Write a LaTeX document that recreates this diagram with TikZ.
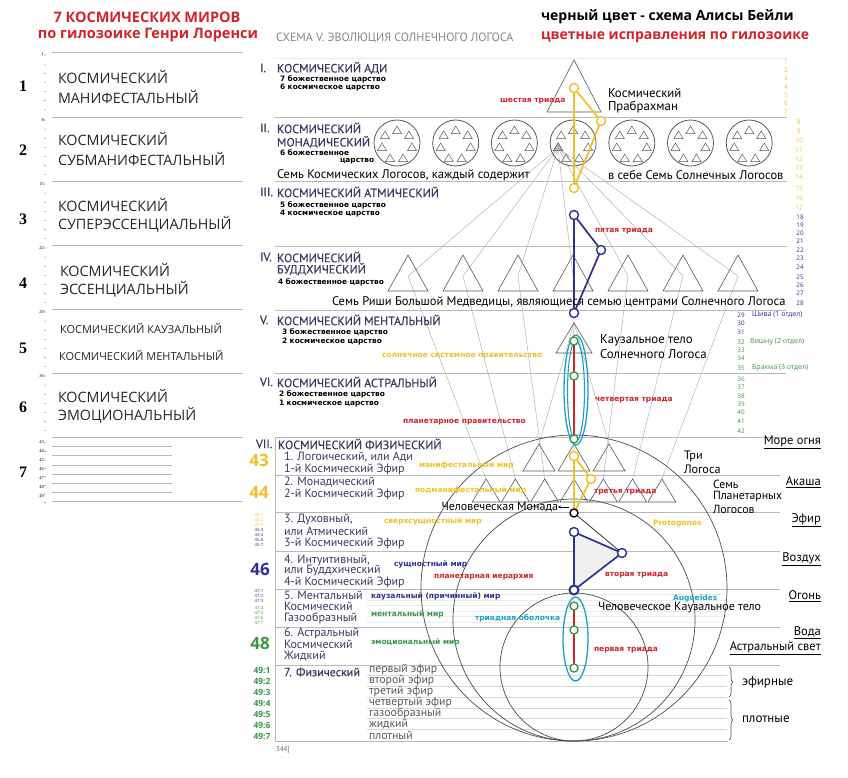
\documentclass[tikz,border=0pt]{standalone}
\usepackage{fontspec}
\setmainfont{Open Sans}
\newfontfamily\dvb{DejaVu Sans}
\newfontfamily\lserif{Liberation Serif}
\newfontfamily\pts{PT Sans}
\newfontfamily\ptsb[FakeBold=0.4]{PT Sans}
\usetikzlibrary{decorations.pathreplacing,arrows.meta}
\newcommand\fs[1]{\fontsize{#1}{#1}\selectfont}
\definecolor{cred}{RGB}{210,35,42}
\definecolor{cgold}{RGB}{240,192,40}
\definecolor{cnavy}{RGB}{46,49,146}
\definecolor{cgreen}{RGB}{60,150,72}
\definecolor{ccyan}{RGB}{25,160,200}
\definecolor{cslate}{RGB}{58,58,98}
\definecolor{cline}{RGB}{185,185,185}
\definecolor{cfan}{RGB}{175,175,175}
\definecolor{cgtxt}{RGB}{135,135,135}
\begin{document}
\begin{tikzpicture}[x=1pt,y=-1pt,
  txt/.style={anchor=west,inner sep=0pt,outer sep=0pt},
  lcol/.style={txt,font=\fs{14.3},text=black!85},
  sec/.style={txt,font=\ptsb\fs{12},text=cslate},
  rom/.style={txt,font=\ptsb\fs{12},text=cslate},
  sml/.style={txt,font=\dvb\bfseries\fs{7.4}},
  clab/.style={txt,font=\dvb\bfseries\fs{7.5}},
  body/.style={txt,font=\pts\fs{12.5}},
  rowt/.style={txt,font=\pts\fs{12},text=cslate},
  rnum/.style={inner sep=0pt,font=\fs{6.3}},
  elem/.style={anchor=east,inner sep=0pt,font=\pts\fs{12.5}},
  phys/.style={txt,font=\pts\fs{11.8},text=black!65},
  secline/.style={draw=cline,line width=0.9pt},
  thinl/.style={draw=gray!30,line width=0.5pt},
  fan/.style={draw=cfan,line width=0.45pt},
  tri/.style={draw=black!65,line width=0.6pt},
  bigc/.style={draw=black!70,line width=0.7pt},
  tc/.style={circle,draw=#1,fill=white,line width=1.4pt,minimum size=9pt,inner sep=0pt},
  tline/.style={draw=#1,line width=1.7pt},
]
\fill[white] (0,0) rectangle (848,777);
\useasboundingbox (0,0) rectangle (848,777);

%================ LEFT COLUMN =================
\node[txt,anchor=center,font=\bfseries\fs{14.5},text=cred] (lt1) at (147,17) {7 КОСМИЧЕСКИХ МИРОВ};
\node[txt,anchor=center,font=\bfseries\fs{14.5},text=cred] (lt2) at (148,35) {по гилозоике Генри Лоренси};
\foreach \y in {52,117,181,245,309,373,437,501.7} \draw[secline] (52,\y) -- (243,\y);
\foreach \y in {446.7,455.7,465,474,483.3,492.3} \draw[secline] (52,\y) -- (172,\y);
\foreach \t in {52,117,181,245,309,373} \foreach \j in {0,...,6} \fill[black!60] (45,{\t+3+9.1*\j}) circle (0.55);
\foreach \j in {0,...,7} \fill[black!60] (45,{443+8.5*\j}) circle (0.55);
\foreach \n/\y in {1/54,8/120,15/184,22/248,29/312,36/376,43/442,44/451,45/460,46/469,47/478,48/487,49/496}
  \node[inner sep=0pt,anchor=east,font=\lserif\fs{4.5}] (tn\n) at (44,\y) {\n};
\foreach \n/\y in {1/86,2/150,3/219,4/283,5/348,6/407,7/472}
  \node[inner sep=0pt,font=\lserif\bfseries\fs{16}] (bn\n) at (23,\y) {\n};
\node[lcol] (w1a) at (58,77) {КОСМИЧЕСКИЙ};
\node[lcol] (w1b) at (58,97) {МАНИФЕСТАЛЬНЫЙ};
\node[lcol] (w2a) at (58,139) {КОСМИЧЕСКИЙ};
\node[lcol] (w2b) at (58,159) {СУБМАНИФЕСТАЛЬНЫЙ};
\node[lcol] (w3a) at (58,205) {КОСМИЧЕСКИЙ};
\node[lcol] (w3b) at (58,224) {СУПЕРЭССЕНЦИАЛЬНЫЙ};
\node[lcol] (w4a) at (60,270) {КОСМИЧЕСКИЙ};
\node[lcol] (w4b) at (60,289) {ЭССЕНЦИАЛЬНЫЙ};
\node[lcol,font=\fs{11}] (w5a) at (60,328) {КОСМИЧЕСКИЙ КАУЗАЛЬНЫЙ};
\node[lcol,font=\fs{11}] (w5b) at (59,355) {КОСМИЧЕСКИЙ МЕНТАЛЬНЫЙ};
\node[lcol] (w6a) at (58,396) {КОСМИЧЕСКИЙ};
\node[lcol] (w6b) at (58,415) {ЭМОЦИОНАЛЬНЫЙ};

%================ HEADER =================
\node[txt,font=\bfseries\fs{14}] (h1) at (541,17) {черный цвет - схема Алисы Бейли};
\node[txt,font=\bfseries\fs{14},text=cred] (h2) at (541,37) {цветные исправления по гилозоике};
\node[txt,font=\pts\fs{12},text=cgtxt] (h3) at (276,38) {СХЕМА V. ЭВОЛЮЦИЯ СОЛНЕЧНОГО ЛОГОСА};

%================ MAIN GRID =================
\draw[draw=gray!15,line width=0.6pt] (273,58) -- (787,58);
\foreach \y in {117,181,246,310,373,437} \draw[secline] (275,\y) -- (787,\y);
\foreach \y in {475,512,551,589,627,665} \draw[secline] (275,\y) -- (780,\y);
\draw[secline] (275,437) -- (275,741) -- (728,741);
\foreach \y in {675,686,697,708,718.5,729.5} \draw[thinl] (367,\y) -- (727,\y);
\foreach \y in {594.5,600,605.5,611,616.5,622} \draw[draw=gray!15,line width=0.5pt] (367,\y) -- (727,\y);

%================ FAN LINES =================
\coordinate (G) at (558,148);
\foreach \i in {0,...,6} {
  \coordinate (R\i) at ({408+55*\i},276);
  \coordinate (P\i) at ({574+29.3*(\i-3)},479);
  \draw[fan] (G) -- (R\i);
  \draw[fan] (R\i) -- (P\i);
}
\coordinate (Vap) at (574,323);
\coordinate (L1) at (539,444);
\coordinate (L3) at (609,444);
\draw[fan] (Vap) -- (L1);
\draw[fan] (Vap) -- (L3);

%================ BIG CIRCLES =================
\draw[bigc] (574,588) circle (153);
\draw[bigc] (574,620) circle (121);
\draw[bigc] (574,667) circle (74);

%================ TRIANGLES =================
\draw[tri] (574,60) -- (547,112) -- (601,112) -- cycle;
\foreach \i in {0,...,6} {
  \pgfmathsetmacro\cx{397+58.7*\i}
  \draw[tri,line width=0.8pt] (\cx,143) circle (23);
  \foreach \dx/\dy in {0/-13,12/-8,15/4,6/15,-7/15,-15/4,-12/-8}
    \draw[tri,line width=0.5pt] ({\cx+\dx},{143+\dy-4}) -- ++(-4.5,7.5) -- ++(9,0) -- cycle;
}
\filldraw[tri,fill=gray!55,line width=0.5pt] (558.1,143) -- ++(-4.5,7.5) -- ++(9,0) -- cycle;
\foreach \i in {0,...,6} \draw[tri] ({408+55*\i},255) -- ++(-20,36) -- ++(40,0) -- cycle;
\draw[tri] (574,323) -- (556,353) -- (592,353) -- cycle;
\foreach \x in {539,574,609} \draw[tri] (\x,444) -- ++(-16,27) -- ++(32,0) -- cycle;
\foreach \i in {0,...,6} \draw[tri] ({574+29.3*(\i-3)},479) -- ++(-14,23) -- ++(28,0) -- cycle;

%================ TRIADS =================
\coordinate (c6a) at (574,88); \coordinate (c6b) at (601,121); \coordinate (c6c) at (574,188);
\draw[tline=cgold] (c6a) -- (c6b) -- (c6c) -- cycle;
\coordinate (c5a) at (574,215); \coordinate (c5b) at (601,250); \coordinate (c5c) at (574,313);
\draw[tline=cnavy] (c5a) -- (c5b) -- (c5c) -- cycle;
\coordinate (c4a) at (574,341); \coordinate (c4b) at (574,376); \coordinate (c4c) at (574,439);
\draw[ccyan,line width=1.3pt] (576,390) ellipse [x radius=12, y radius=55];
\draw[ccyan,line width=1.1pt] (576,391) ellipse [x radius=8.5, y radius=50];
\draw[tline=cred] (c4a) -- (c4c);
\coordinate (c3a) at (574,456); \coordinate (c3b) at (591,479); \coordinate (c3c) at (574,513);
\draw[tline=cgold] (c3a) -- (c3b) -- (c3c) -- cycle;
\coordinate (c2a) at (574,532); \coordinate (c2b) at (622,553); \coordinate (c2c) at (574,590);
\fill[gray!12] (c2a) -- (c2b) -- (c2c) -- cycle;
\draw[black!80,line width=0.8pt] (c3c) -- (c2b);
\draw[tline=cnavy] (c2a) -- (c2b) -- (c2c) -- cycle;
\coordinate (c1a) at (574,606); \coordinate (c1b) at (574,630); \coordinate (c1c) at (574,668);
\draw[ccyan,line width=1.3pt] (575.5,639) ellipse [x radius=12.5, y radius=42];
\draw[tline=cred] (c1a) -- (c1c);

\node[tc=cgold] (s6a) at (c6a) {}; \node[tc=cgold] (s6b) at (c6b) {}; \node[tc=cgold] (s6c) at (c6c) {};
\node[tc=cnavy] (s5a) at (c5a) {}; \node[tc=cnavy] (s5b) at (c5b) {}; \node[tc=cnavy] (s5c) at (c5c) {};
\node[tc=cgreen,minimum size=8pt] (s4a) at (c4a) {}; \node[tc=cgreen,minimum size=8pt] (s4b) at (c4b) {}; \node[tc=cgreen,minimum size=8pt] (s4c) at (c4c) {};
\node[tc=cgold] (s3a) at (c3a) {}; \node[tc=cgold] (s3b) at (c3b) {}; \node[tc=black,minimum size=8pt] (s3c) at (c3c) {};
\node[tc=cnavy] (s2a) at (c2a) {}; \node[tc=cnavy] (s2b) at (c2b) {}; \node[tc=cnavy,line width=2pt] (s2c) at (c2c) {};
\node[tc=cgreen,minimum size=8pt] (s1a) at (c1a) {}; \node[tc=cgreen,minimum size=8pt] (s1b) at (c1b) {}; \node[tc=cgreen,minimum size=8pt] (s1c) at (c1c) {};

%================ SECTION LABELS I-VI =================
\node[rom] (rI) at (260,68) {I.};
\node[sec] (sI) at (277,68) {КОСМИЧЕСКИЙ АДИ};
\node[sml] (sI1) at (280,79) {7 божественное царство};
\node[sml] (sI2) at (280,88) {6 космическое царство};
\node[body,font=\pts\fs{12.8}] (prab1) at (608,93) {Космический};
\node[body,font=\pts\fs{12.8}] (prab2) at (608,107) {Прабрахман};
\node[clab,text=cred] (t6) at (500,101) {шестая триада};

\node[rom] (rII) at (260,128) {II.};
\node[sec] (sII1) at (277,128) {КОСМИЧЕСКИЙ};
\node[sec] (sII2) at (277,142) {МОНАДИЧЕСКИЙ};
\node[sml] (sII3) at (280,153) {6 божественное};
\node[sml] (sII4) at (340,161) {царство};
\node[body] (sII5) at (277,175) {Семь Космических Логосов, каждый содержит};
\node[body] (sII6) at (608,175) {в себе Семь Солнечных Логосов};

\node[rom] (rIII) at (260,192) {III.};
\node[sec] (sIII) at (277,192) {КОСМИЧЕСКИЙ АТМИЧЕСКИЙ};
\node[sml] (sIII1) at (280,205) {5 божественное царство};
\node[sml] (sIII2) at (280,214) {4 космическое царство};
\node[clab,text=cred] (t5) at (595,231) {пятая триада};

\node[rom] (rIV) at (260,257) {IV.};
\node[sec] (sIV1) at (277,257) {КОСМИЧЕСКИЙ};
\node[sec] (sIV2) at (277,269) {БУДДХИЧЕСКИЙ};
\node[sml] (sIV3) at (278,282) {4 божественное царство};
\node[body] (sIV4) at (332,302) {Семь Риши Большой Медведицы, являющиеся семью центрами Солнечного Логоса};

\node[rom] (rV) at (260,320) {V.};
\node[sec] (sV) at (277,320) {КОСМИЧЕСКИЙ МЕНТАЛЬНЫЙ};
\node[sml] (sV1) at (282,332) {3 божественное царство};
\node[sml] (sV2) at (282,342) {2 космическое царство};
\node[body,font=\pts\fs{12.8}] (ktel1) at (600,340) {Каузальное тело};
\node[body,font=\pts\fs{12.8}] (ktel2) at (600,354) {Солнечного Логоса};
\node[clab,text=cgold] (ssp) at (382,356) {солнечное системное правительство};

\node[rom] (rVI) at (260,382) {VI.};
\node[sec] (sVI) at (277,382) {КОСМИЧЕСКИЙ АСТРАЛЬНЫЙ};
\node[sml] (sVI1) at (279,394) {2 божественное царство};
\node[sml] (sVI2) at (279,404) {1 космическое царство};
\node[clab,text=cred] (t4) at (595,400) {четвертая триада};
\node[clab,text=cred] (ppr) at (403,422) {планетарное правительство};

%================ RIGHT NUMBER COLUMN =================
\foreach \n/\y in {1/61,2/70,3/78,4/87,5/95,6/103,7/112} \node[rnum,text=cgold] (rn\n) at (786,\y) {\n};
\foreach \n/\y in {8/122,9/131,10/140,11/150,12/159,13/168,14/177,15/188,16/198,17/208} \node[rnum,text=cgold] (rn\n) at (799,\y) {\n};
\foreach \n/\y in {18/217,19/225,20/233,21/241,22/250,23/258,24/267,25/277,26/285,27/293,28/303} \node[rnum,text=cnavy] (rn\n) at (800,\y) {\n};
\foreach \n/\y in {29/315,30/323,31/332} \node[rnum,text=cnavy] (rn\n) at (741,\y) {\n};
\foreach \n/\y in {32/342,33/350,34/358,35/368,36/379,37/387,38/396,39/404,40/412,41/421,42/431} \node[rnum,text=cgreen] (rn\n) at (741,\y) {\n};
\node[txt,font=\fs{7},text=cnavy] (shiva) at (752,315) {Шива (1 отдел)};
\node[txt,font=\fs{7},text=cgreen] (vishnu) at (750,342) {Вишну (2 отдел)};
\node[txt,font=\fs{7},text=cgreen] (brahma) at (752,368) {Брахма (3 отдел)};

%================ SECTION VII =================
\node[rom] (rVII) at (256,444) {VII.};
\node[sec] (sVII) at (278,444) {КОСМИЧЕСКИЙ ФИЗИЧЕСКИЙ};
\node[rowt] (v1a) at (284,457) {1. Логоический, или Ади};
\node[rowt] (v1b) at (284,469) {1-й Космический Эфир};
\node[rowt] (v2a) at (284,482) {2. Монадический};
\node[rowt] (v2b) at (284,494) {2-й Космический Эфир};
\node[rowt] (v3a) at (284,520) {3. Духовный,};
\node[rowt] (v3b) at (284,531) {или Атмический};
\node[rowt] (v3c) at (284,543) {3-й Космический Эфир};
\node[rowt] (v4a) at (284,560) {4. Интуитивный,};
\node[rowt] (v4b) at (284,571) {или Буддхический};
\node[rowt] (v4c) at (284,582) {4-й Космический Эфир};
\node[rowt] (v5a) at (284,595) {5. Ментальный};
\node[rowt] (v5b) at (284,606) {Космический};
\node[rowt] (v5c) at (284,618) {Газообразный};
\node[rowt] (v6a) at (284,633) {6. Астральный};
\node[rowt] (v6b) at (284,644) {Космический};
\node[rowt] (v6c) at (284,656) {Жидкий};
\node[rowt,font=\ptsb\fs{12}] (v7) at (284,672) {7. Физический};

\node[inner sep=0pt,font=\bfseries\fs{17},text=cgold] (n43) at (259,460) {43};
\node[inner sep=0pt,font=\bfseries\fs{17},text=cgold] (n44) at (259,492) {44};
\node[inner sep=0pt,font=\bfseries\fs{17},text=cnavy] (n46) at (260,569) {46};
\node[inner sep=0pt,font=\bfseries\fs{17},text=cgreen] (n48) at (260,643) {48};
\foreach \k/\y/\c in {1/515/cgold,2/520/cgold,3/525/cgold,4/530/cnavy,5/535/cnavy,6/540/cnavy,7/544.5/cnavy}
  \node[inner sep=0pt,font=\fs{4.3},text=\c] (n45\k) at (259,\y) {45:\k};
\foreach \k/\y/\c in {1/591/cnavy,2/596/cnavy,3/601/cnavy,4/608/cgreen,5/613/cgreen,6/618/cgreen,7/623/cgreen}
  \node[inner sep=0pt,font=\fs{4.3},text=\c] (n47\k) at (259,\y) {47:\k};
\foreach \k/\y in {1/670,2/681,3/692,4/703,5/714,6/725,7/736}
  \node[inner sep=0pt,font=\bfseries\fs{8.5},text=cgreen] (n49\k) at (262,\y) {49:\k};

\node[phys] (ph1) at (369,670) {первый эфир};
\node[phys] (ph2) at (369,681) {второй эфир};
\node[phys] (ph3) at (369,692) {третий эфир};
\node[phys] (ph4) at (369,703) {четвертый эфир};
\node[phys] (ph5) at (369,713.5) {газообразный};
\node[phys] (ph6) at (369,724.5) {жидкий};
\node[phys] (ph7) at (369,735) {плотный};
\draw[decorate,decoration={brace,amplitude=4pt},line width=0.6pt,black!70] (729,667) -- (729,697);
\draw[decorate,decoration={brace,amplitude=4pt},line width=0.6pt,black!70] (729,700) -- (729,740);
\node[txt,font=\pts\fs{13}] (efir) at (742,682) {эфирные};
\node[txt,font=\pts\fs{13}] (plot) at (742,719) {плотные};
\node[txt,font=\pts\fs{7},text=black!60] (page) at (276,750) {344]};

\node[elem] (e1) at (821,442) {\underline{Море огня}};
\node[elem] (e2) at (821,482) {\underline{Акаша}};
\node[elem] (e3) at (821,520) {\underline{Эфир}};
\node[elem] (e4) at (821,559) {\underline{Воздух}};
\node[elem] (e5) at (821,596) {\underline{Огонь}};
\node[elem] (e6) at (821,633) {\underline{Вода}};
\node[elem] (e7) at (821,648) {\underline{Астральный свет}};
\node[body,font=\pts\fs{12.2}] (tl1) at (684,456) {Три};
\node[body,font=\pts\fs{12.2}] (tl2) at (684,469) {Логоса};
\node[body,font=\pts\fs{11.8}] (pl1) at (713,484) {Семь};
\node[body,font=\pts\fs{11.8}] (pl2) at (713,496.5) {Планетарных};
\node[body,font=\pts\fs{11.8}] (pl3) at (713,509) {Логосов};

\node[clab,text=cgold] (m1) at (419,465) {манифестальный мир};
\node[clab,text=cgold] (m2) at (415,490) {подманифестальный мир};
\node[clab,text=cred] (t3) at (594,492) {третья триада};
\node[clab,text=cgold] (m3) at (384,521) {сверхсущностный мир};
\node[clab,text=cgold] (proto) at (653,524) {Protogonos};
\node[clab,text=cnavy] (m4) at (394,564) {сущностный мир};
\node[clab,text=cred] (pih) at (434,577) {планетарная иерархия};
\node[clab,text=cred] (t2) at (605,575) {вторая триада};
\node[clab,text=cnavy] (m5) at (371,596) {каузальный (причинный) мир};
\node[clab,text=ccyan] (aug) at (673,598) {Augoeides};
\node[clab,text=cgreen] (m6) at (371,614) {ментальный мир};
\node[clab,text=ccyan] (tro) at (475,618) {триадная оболочка};
\node[clab,text=cgreen] (m7) at (371,642) {эмоциональный мир};
\node[clab,text=cred] (t1) at (594,650) {первая триада};
\node[txt,font=\pts\fs{12}] (hkt) at (598,608) {Человеческое Каузальное тело};
\node[txt,anchor=east,font=\pts\fs{12}] (hmon) at (558,507) {Человеческая Монада};
\coordinate (monarr) at (569,507);
\draw[-{Stealth[length=3pt,width=3pt]},line width=0.6pt] (monarr) -- (hmon.east);
\end{tikzpicture}
\end{document}
